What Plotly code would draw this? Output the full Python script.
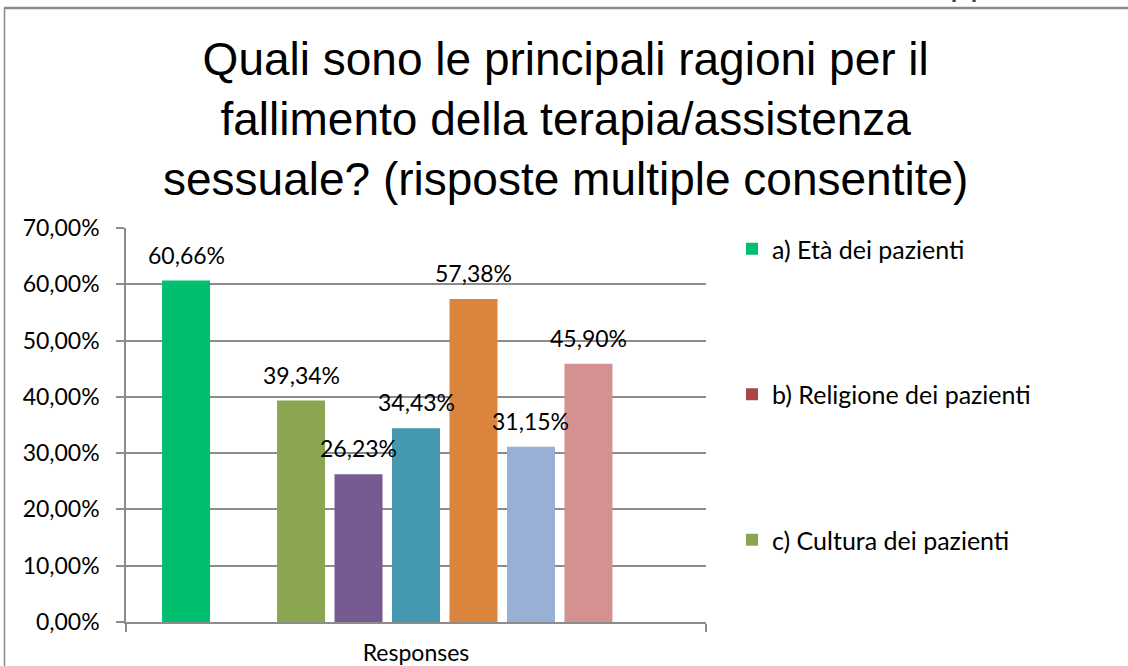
import plotly.graph_objects as go

categories = ["Responses"]
series_names = [
    "a) Età dei pazienti",
    "b) Religione dei pazienti",
    "c) Cultura dei pazienti",
    "d)",
    "e)",
    "f)",
    "g)",
    "h)",
    "i)",
]
series_values = [0.6066, None, 0.3934, 0.2623, 0.3443, 0.5738, 0.3115, 0.4590, None]
series_colors = ["#00BF6F", "#AA4643", "#8BA650", "#765A92", "#4498AF",
                 "#DB843D", "#98AFD6", "#D39192", "#A5C47F"]
legend_shown = [True, True, True, False, False, False, False, False, False]
y_ticks = [0, 0.1, 0.2, 0.3, 0.4, 0.5, 0.6, 0.7]

TITLE = ("Quali sono le principali ragioni per il<br>"
         "fallimento della terapia/assistenza<br>"
         "sessuale? (risposte multiple consentite)")

FONT = "Lato"
BARGAP = 0.108
GROUPGAP = 0.165

W, H = 1128, 666
L, R, T, B = 126, 706, 228, 622


def px_x(px):
    return (px - L) / (R - L)


def px_y(py):
    return (B - py) / (B - T)


fig = go.Figure()
n = len(series_names)
for i, (name, v, c, show) in enumerate(zip(series_names, series_values, series_colors, legend_shown)):
    fig.add_trace(go.Bar(
        x=categories, y=[v], name=name, marker=dict(color=c, line=dict(width=0)),
        showlegend=show, legendgroup=f"g{i}", hoverinfo="skip",
    ))

# data labels above bars
slot = (1 - BARGAP) / n
for i, v in enumerate(series_values):
    if v is None:
        continue
    fig.add_annotation(
        x=0 + (i - (n - 1) / 2) * slot, y=v, xref="x", yref="y",
        text=f"{v * 100:.2f}".replace(".", ",") + "%",
        showarrow=False, yanchor="middle", yshift=26,
        font=dict(family=FONT, size=23, color="#000000"),
    )

# title (as annotation for precise placement)
fig.add_annotation(
    x=px_x(565), y=px_y(119), xref="paper", yref="paper", text=TITLE,
    showarrow=False, xanchor="center", yanchor="middle", align="center",
    font=dict(family="Liberation Sans", size=46, color="#000000"),
)

# partially visible text at the top edge (cropped in the reference)
fig.add_annotation(
    x=px_x(970), y=px_y(4), xref="paper", yref="paper", text="pp", showarrow=False,
    xanchor="center", yanchor="bottom",
    font=dict(family="Liberation Sans", size=36, color="#404040"),
)

# outer frame lines
fig.add_shape(type="line", xref="paper", yref="paper",
              x0=px_x(4), x1=px_x(W + 5), y0=px_y(8), y1=px_y(8),
              line=dict(color="#8a8a8a", width=2.5))
fig.add_shape(type="line", xref="paper", yref="paper",
              x0=px_x(4.5), x1=px_x(4.5), y0=px_y(8), y1=px_y(H + 5),
              line=dict(color="#8a8a8a", width=1.5))

fig.update_layout(
    width=W, height=H,
    margin=dict(l=L, r=W - R, t=T, b=H - B, autoexpand=False),
    paper_bgcolor="white", plot_bgcolor="white",
    barmode="group", bargap=BARGAP, bargroupgap=GROUPGAP,
    separators=",.",
    legend=dict(x=px_x(732), y=px_y(226), xanchor="left", yanchor="top",
                tracegroupgap=110, font=dict(family=FONT, size=25, color="#000000"),
                bgcolor="rgba(0,0,0,0)", maxheight=1),
    showlegend=True,
)
fig.update_yaxes(
    range=[0, 0.7], tickvals=y_ticks, tickformat=".2%",
    showgrid=True, gridcolor="#8c8c8c", gridwidth=1.5,
    showline=True, linecolor="#8c8c8c", linewidth=1.5,
    ticks="outside", ticklen=8, tickcolor="#8c8c8c", tickwidth=1.5,
    tickfont=dict(family=FONT, size=23, color="#000000"), zeroline=False,
    ticklabelstandoff=12,
)
fig.update_xaxes(
    showline=True, linecolor="#8c8c8c", linewidth=1.5,
    ticks="outside", tickson="boundaries", ticklen=8, tickcolor="#8c8c8c", tickwidth=1.5,
    tickfont=dict(family=FONT, size=23, color="#000000"), ticklabelstandoff=10,
)

fig.write_html("out.html", config={"displayModeBar": False},
               post_script="document.body.style.margin='0';")
